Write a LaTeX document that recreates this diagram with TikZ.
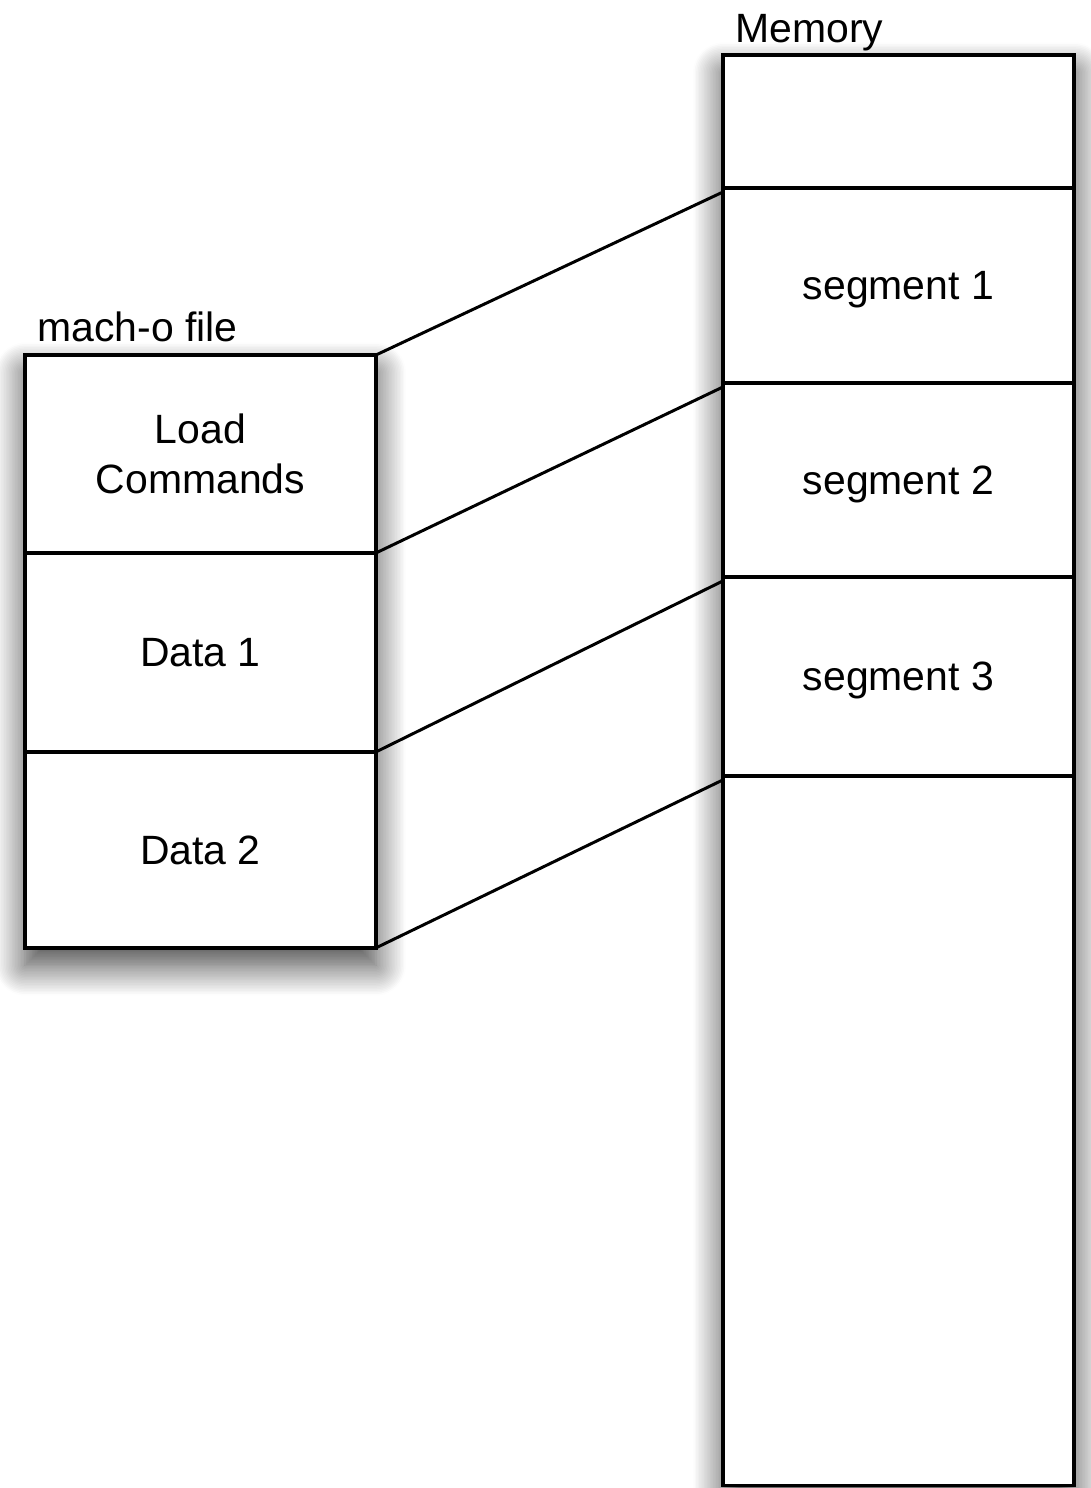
\documentclass[tikz,border=0pt]{standalone}
\usepackage{fontspec}
\setmainfont{Liberation Sans}
\usetikzlibrary{positioning,shadows.blur}
\tikzset{
  part/.style={draw,line width=1.9pt,fill=white,minimum width=7.02cm,
    inner sep=0pt,outer sep=0pt,align=center,text depth=0pt,
    font=\fontsize{23.3}{28.4}\selectfont},
  caption/.style={inner sep=0pt,font=\fontsize{23.3}{28.4}\selectfont},
  link/.style={line width=1.7pt},
  frame/.style={fill=white,blur shadow={shadow xshift=0pt,shadow yshift=-0.35cm,
    shadow blur radius=0.6cm,shadow blur steps=20,shadow opacity=75}}
}
\begin{document}
\begin{tikzpicture}[x=0.02cm,y=-0.02cm]
\useasboundingbox (0,0) rectangle (1091,1488);
%
\path[frame] (25,355) rectangle (376,948);
\path[frame] (723,55) rectangle (1075,1486);
% mach-o file
\node[part,minimum height=3.96cm,anchor=north west] (lc) at (25,355) {Load\\Commands};
\node[part,minimum height=3.98cm,below=0pt of lc] (d1) {Data 1};
\node[part,minimum height=3.92cm,below=0pt of d1] (d2) {Data 2};
\node[caption,anchor=base west] (filelbl) at (37,341) {mach-o file};
% memory
\node[part,minimum height=2.66cm,anchor=north west] (top) at (723,55) {};
\node[part,minimum height=3.9cm,below=0pt of top] (seg1) {segment 1};
\node[part,minimum height=3.88cm,below=0pt of seg1] (seg2) {segment 2};
\node[part,minimum height=3.98cm,below=0pt of seg2] (seg3) {segment 3};
\node[part,minimum height=14.2cm,below=0pt of seg3] (rest) {};
\node[caption,anchor=base west] (memlbl) at (735,42) {Memory};
%
\draw[link] (lc.north east) -- ([yshift=-0.08cm]seg1.north west);
\draw[link] (d1.north east) -- ([yshift=-0.08cm]seg2.north west);
\draw[link] (d2.north east) -- ([yshift=-0.08cm]seg3.north west);
\draw[link] (d2.south east) -- ([yshift=-0.08cm]rest.north west);
\end{tikzpicture}
\end{document}
